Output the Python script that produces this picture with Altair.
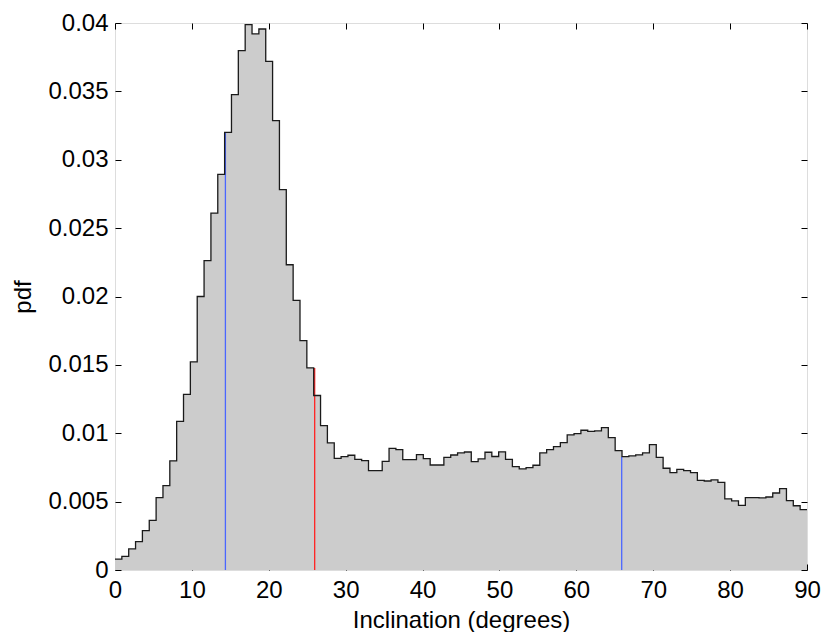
import altair as alt
import pandas as pd

# Histogram (pdf) values, 101 equal bins spanning 0..90 degrees
pdf_values = [
    0.00080, 0.00100, 0.00154, 0.00207, 0.00288, 0.00363, 0.00529, 0.00617, 0.00798, 0.01087,
    0.01285, 0.01522, 0.02000, 0.02263, 0.02610, 0.02893, 0.03200, 0.03476, 0.03798, 0.03988,
    0.03920, 0.03956, 0.03720, 0.03286, 0.02781, 0.02232, 0.01971, 0.01678, 0.01478, 0.01276,
    0.01056, 0.00929, 0.00816, 0.00829, 0.00839, 0.00809, 0.00800, 0.00727, 0.00727, 0.00795,
    0.00890, 0.00880, 0.00807, 0.00807, 0.00844, 0.00814, 0.00768, 0.00768, 0.00824, 0.00841,
    0.00856, 0.00863, 0.00793, 0.00812, 0.00861, 0.00830, 0.00864, 0.00809, 0.00756, 0.00739,
    0.00749, 0.00766, 0.00856, 0.00880, 0.00902, 0.00932, 0.00988, 0.00997, 0.01022, 0.01014,
    0.01017, 0.01041, 0.00968, 0.00873, 0.00829, 0.00834, 0.00842, 0.00856, 0.00917, 0.00824,
    0.00744, 0.00712, 0.00736, 0.00727, 0.00712, 0.00656, 0.00651, 0.00659, 0.00641, 0.00520,
    0.00505, 0.00473, 0.00529, 0.00529, 0.00527, 0.00534, 0.00563, 0.00595, 0.00507, 0.00470,
    0.00441,
]
x_min, x_max = 0.0, 90.0
n_bins = len(pdf_values)

# Marker lines (x position, height, colour)
marker_x = [14.36, 25.97, 65.9]
marker_h = [0.0320, 0.01478, 0.00829]
marker_color = ["#4a66ff", "#ff2222", "#4a66ff"]

x_ticks = [0, 10, 20, 30, 40, 50, 60, 70, 80, 90]
y_ticks = [0, 0.005, 0.01, 0.015, 0.02, 0.025, 0.03, 0.035, 0.04]

W, H = 692, 547
FONT = "Liberation Sans"
FS = 24

bw = (x_max - x_min) / n_bins
edges = [x_min + i * bw for i in range(n_bins)] + [x_max]
hist = pd.DataFrame({"x": edges, "y": pdf_values + [pdf_values[-1]]})
marks = pd.DataFrame({"x": marker_x, "y": marker_h, "c": marker_color})

xs = alt.Scale(domain=[x_min, x_max], nice=False, zero=False)
ys = alt.Scale(domain=[0, 0.04], nice=False, zero=True)

lab = dict(labelFont=FONT, labelFontSize=FS, labelColor="black", labelFlush=False,
           titleFont=FONT, titleFontSize=FS, titleColor="black", titleFontWeight="normal")

x_main = alt.Axis(orient="bottom", values=x_ticks, ticks=False, domain=False, grid=False,
                  labelPadding=8, titlePadding=6, title="Inclination (degrees)", **lab)
y_main = alt.Axis(orient="left", values=y_ticks, ticks=False, domain=False, grid=False,
                  format="~g", labelPadding=7, titlePadding=12, title="pdf", **lab)

def tick_axis(orient, offset, values):
    return alt.Axis(orient=orient, offset=offset, values=values, ticks=True, tickSize=6,
                    tickColor="black", tickWidth=1, labels=False, domain=False, grid=False, title=None)

area = alt.Chart(hist).mark_area(interpolate="step-after", color="#cccccc").encode(
    x=alt.X("x:Q", scale=xs, axis=x_main),
    y=alt.Y("y:Q", scale=ys, axis=y_main),
)

outline = alt.Chart(hist).mark_line(interpolate="step-after", color="#1a1a1a", strokeWidth=1.3).encode(
    x=alt.X("x:Q", scale=xs, axis=tick_axis("top", -H, x_ticks)),
    y=alt.Y("y:Q", scale=ys, axis=tick_axis("right", -W, y_ticks)),
)

rules = alt.Chart(marks).mark_rule(strokeWidth=1.3).encode(
    x=alt.X("x:Q", scale=xs, axis=tick_axis("bottom", -H, x_ticks)),
    y=alt.Y("y:Q", scale=ys, axis=tick_axis("left", -W, y_ticks)),
    y2=alt.datum(0),
    color=alt.Color("c:N", scale=None),
)

chart = alt.layer(area, rules, outline).resolve_axis(x="independent", y="independent").properties(
    width=W, height=H,
    autosize=alt.AutoSizeParams(type="none"),
    padding={"left": 107, "top": 15, "right": 15, "bottom": 62},
).configure_view(stroke="black", strokeWidth=1.2).configure(background="white")

chart.save("out.html", embed_options={"renderer": "svg", "actions": False})
